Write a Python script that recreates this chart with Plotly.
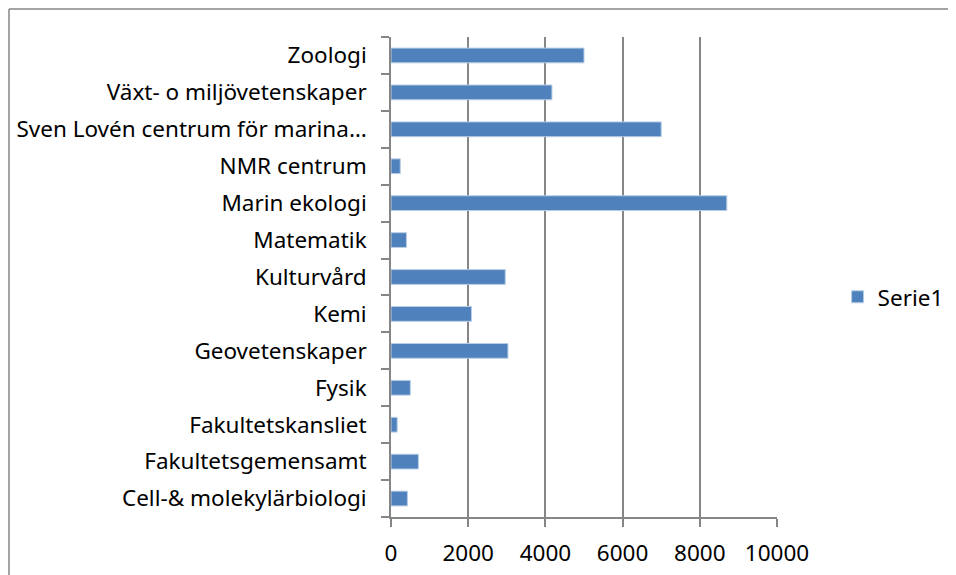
import plotly.graph_objects as go

categories = [
    "Cell-& molekylärbiologi",
    "Fakultetsgemensamt",
    "Fakultetskansliet",
    "Fysik",
    "Geovetenskaper",
    "Kemi",
    "Kulturvård",
    "Matematik",
    "Marin ekologi",
    "NMR centrum",
    "Sven Lovén centrum för marina…",
    "Växt- o miljövetenskaper",
    "Zoologi",
]
values = [425, 710, 160, 500, 3030, 2085, 2960, 400, 8700, 240, 7000, 4170, 5000]
series_name = "Serie1"
x_ticks = [0, 2000, 4000, 6000, 8000, 10000]

GRID = "#868686"
FONT = "Noto Sans"
FS = 22.5

L, T, PW, PH = 383, 29, 386, 480
W, H = 948, 567

fig = go.Figure()
fig.add_trace(go.Bar(
    y=categories, x=values, orientation="h", name=series_name,
    marker=dict(color="#4F81BD", line=dict(color="#B9CDE5", width=1)),
    showlegend=True,
))

bx = (1.0 - L) / PW
by = 1 + (T - 1.0) / PH

fig.update_layout(
    width=W, height=H,
    margin=dict(l=L, r=W - L - PW, t=T, b=H - T - PH, autoexpand=False),
    paper_bgcolor="white", plot_bgcolor="white",
    font=dict(family=FONT, size=FS, color="black"),
    bargap=0.6,
    showlegend=True,
    legend=dict(x=1.157, y=0.458, xanchor="left", yanchor="middle",
                font=dict(family=FONT, size=FS, color="black"),
                itemwidth=30, bgcolor="rgba(0,0,0,0)"),
    xaxis=dict(
        range=[0, 10000], tickvals=x_ticks, ticktext=[str(v) for v in x_ticks],
        showgrid=True, gridcolor=GRID, gridwidth=1.6,
        showline=True, linecolor=GRID, linewidth=1.6,
        ticks="outside", ticklen=8, tickcolor=GRID, tickwidth=1.6,
        zeroline=False, tickfont=dict(size=FS), ticklabelstandoff=7,
    ),
    yaxis=dict(
        type="category", categoryorder="array", categoryarray=categories,
        showgrid=False, showline=True, linecolor=GRID, linewidth=1.6,
        ticks="outside", ticklen=8, tickcolor=GRID, tickwidth=1.6,
        tickson="boundaries", ticklabelstandoff=18,
        tickfont=dict(size=FS),
    ),
    shapes=[
        dict(type="line", xref="paper", yref="paper",
             x0=bx, x1=bx, y0=(T + PH - H) / PH, y1=by,
             line=dict(color=GRID, width=1.5)),
        dict(type="line", xref="paper", yref="paper",
             x0=bx, x1=(W + 5 - L) / PW, y0=by, y1=by,
             line=dict(color=GRID, width=1.5)),
    ],
)

fig.write_html("out.html")
